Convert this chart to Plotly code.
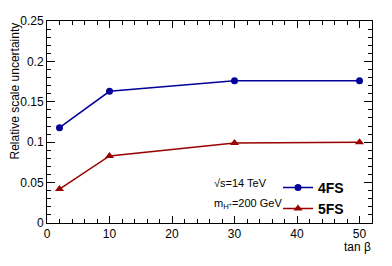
import plotly.graph_objects as go

tanb = [2, 10, 30, 50]
unc_4fs = [0.118, 0.163, 0.176, 0.176]
unc_5fs = [0.042, 0.083, 0.099, 0.100]

# the page body has an 8px default margin, so the figure is shrunk by 8px
OFF = 8
W, H = 392 - OFF, 266 - OFF
L, R, T, B = 47 - OFF, 20, 14 - OFF, 43
PW, PH = W - L - R, H - T - B

fig = go.Figure()
fig.add_trace(go.Scatter(x=tanb, y=unc_4fs, mode="lines+markers", name="4FS",
                         line=dict(color="#000099", width=1.5),
                         marker=dict(symbol="circle", size=7, color="#000099")))
fig.add_trace(go.Scatter(x=tanb, y=unc_5fs, mode="lines+markers", name="5FS",
                         line=dict(color="#990000", width=1.5),
                         marker=dict(symbol="triangle-up", size=8, color="#990000")))

axis_common = dict(showgrid=False, zeroline=False, showline=True, linecolor="black",
                   linewidth=1, mirror="ticks", ticks="inside", tickcolor="black",
                   ticklabeloverflow="allow",
                   tickfont=dict(family="Liberation Sans", size=12, color="black"))
fig.update_xaxes(range=[0, 52], dtick=10, tick0=0, ticklen=7,
                 minor=dict(dtick=2, ticks="inside", ticklen=4, tickcolor="black"),
                 **axis_common)
fig.update_yaxes(range=[0, 0.25001], dtick=0.05, tick0=0, ticklen=8,
                 minor=dict(dtick=0.01, ticks="inside", ticklen=4, tickcolor="black"),
                 **axis_common)

def px(xp):
    return (xp - 47) / PW

def py(yp):
    return (223 - yp) / PH

fig.add_annotation(text="tan β", xref="paper", yref="paper", x=1.003, y=py(239),
                   xanchor="right", yanchor="top", showarrow=False,
                   font=dict(family="Liberation Sans", size=12, color="black"))
fig.add_annotation(text="Relative scale uncertainty", xref="paper", yref="paper",
                   x=px(14), y=1, xanchor="center", yanchor="top", textangle=-90,
                   showarrow=False, font=dict(family="Liberation Sans", size=12, color="black"))
fig.add_annotation(text="√s=14 TeV", xref="paper", yref="paper",
                   x=px(212), y=py(182), xanchor="left", yanchor="middle",
                   showarrow=False, font=dict(family="Liberation Sans", size=11, color="black"))
fig.add_annotation(text="m<sub>H<sup>+</sup></sub>=200 GeV", xref="paper", yref="paper",
                   x=px(212), y=py(203), xanchor="left", yanchor="middle",
                   showarrow=False, font=dict(family="Liberation Sans", size=11, color="black"))

fig.update_layout(
    width=W, height=H, margin=dict(l=L, r=R, t=T, b=B),
    paper_bgcolor="white", plot_bgcolor="white",
    legend=dict(x=px(278), y=py(170), xanchor="left", yanchor="top",
                bgcolor="rgba(0,0,0,0)", itemwidth=30, tracegroupgap=0,
                font=dict(family="Liberation Sans", size=14, color="black", weight="bold")),
    showlegend=True,
)
fig.write_html("out.html")
